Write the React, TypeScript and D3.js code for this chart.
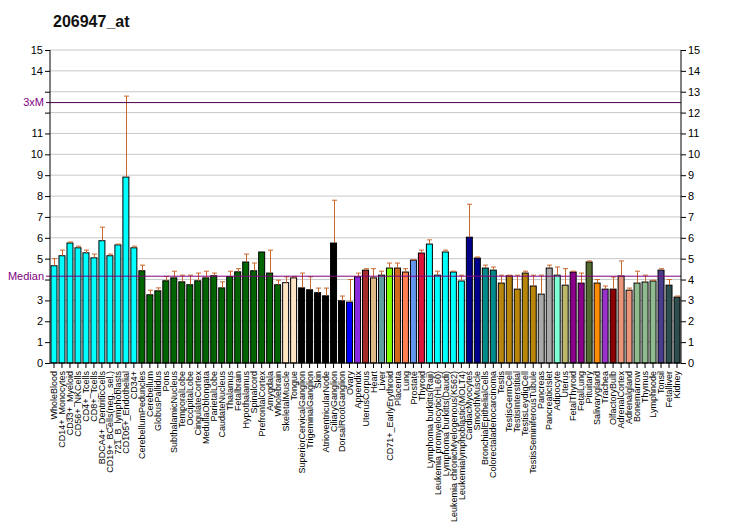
import { useEffect, useRef } from 'react'
import * as d3 from 'd3'

const title = '206947_at'

const tissues = [
  'WholeBlood', 'CD14+_Monocytes', 'CD33+_Myeloid', 'CD56+_NKCells', 'CD4+_Tcells', 'CD8+_Tcells',
  'BDCA4+_DentriticCells', 'CD19+_BCells(neg._sel.)', '721_B_lymphoblasts', 'CD105+_Endothelial', 'CD34+',
  'CerebellumPeduncles', 'Cerebellum', 'GlobusPallidus', 'Pons', 'SubthalamicNucleus', 'TemporalLobe',
  'OccipitalLobe', 'CingulateCortex', 'MedullaOblongata', 'ParietalLobe', 'CaudateNucleus', 'Thalamus',
  'Fetalbrain', 'Hypothalamus', 'Spinalcord', 'PrefrontalCortex', 'Amygdala', 'Wholebrain',
  'SkeletalMuscle', 'Tongue', 'SuperiorCervicalGanglion', 'TrigeminalGanglion', 'Skin',
  'AtrioventricularNode', 'CiliaryGanglion', 'DorsalRootGanglion', 'Ovary', 'Appendix', 'UterusCorpus',
  'Heart', 'Liver', 'CD71+_EarlyErythroid', 'Placenta', 'Lung', 'Prostate', 'Thyroid',
  'Lymphoma burkitts(Raji)', 'Leukemia promyelocytic(HL60)', 'Lymphoma burkitts(Daudi)',
  'Leukemia chronicMyelogenous(K562)', 'Leukemialymphoblastic(MOLT4)', 'CardiacMyocytes', 'SmoothMuscle',
  'BronchialEpithelialCells', 'Colorectaladenocarcinoma', 'Testis', 'TestisGermCell', 'TestisInterstitial',
  'TestisLeydigCell', 'TestisSeminiferousTubule', 'Pancreas', 'PancreaticIslet', 'Adipocyte', 'Uterus',
  'FetalThyroid', 'FetalLung', 'Pituitary', 'Salivarygland', 'Trachea', 'OlfactoryBulb', 'AdrenalCortex',
  'Adrenalgland', 'Bonemarrow', 'Thymus', 'Lymphnode', 'Tonsil', 'Fetalliver', 'Kidney'
]

const values = [
  4.66, 5.14, 5.75, 5.52, 5.28, 5.04, 5.86, 5.14, 5.66, 8.91, 5.52,
  4.42, 3.27, 3.46, 3.94, 4.08, 3.89, 3.75, 3.94, 4.08, 4.18, 3.6, 4.14,
  4.37, 4.84, 4.42, 5.32, 4.31, 3.75,
  3.85, 4.08, 3.6, 3.51, 3.37, 3.22, 5.75, 2.98, 2.92, 4.13, 4.45,
  4.08, 4.21, 4.55, 4.55, 4.36, 4.93, 5.27,
  5.7, 4.21, 5.32, 4.36, 3.93, 6.03, 5.03,
  4.55, 4.45, 3.83, 4.18, 3.54, 4.31, 3.69, 3.3, 4.55, 4.21, 3.73,
  4.36, 3.83, 4.84, 3.83, 3.54, 3.54, 4.17, 3.49, 3.83, 3.88, 3.93, 4.45, 3.73, 3.16
]

const errTops = [
  5.0, 5.41, 5.8, 5.6, 5.41, 5.22, 6.51, 5.22, 5.7, 12.79, 5.6,
  4.69, 3.49, 3.6, 4.15, 4.4, 4.21, 4.21, 4.31, 4.4, 4.31, 3.89, 4.4,
  4.52, 5.22, 4.79, 5.32, 5.41, 3.97,
  4.13, 4.15, 4.31, 4.13, 3.59, 3.59, 7.8, 3.21, 4.0, 4.31, 4.52,
  4.52, 4.4, 4.79, 4.79, 4.52, 4.95, 5.41,
  5.9, 4.4, 5.41, 4.4, 4.21, 7.61, 5.08,
  4.69, 4.6, 4.21, 4.21, 4.21, 4.4, 4.21, 4.21, 4.69, 4.6, 4.52,
  4.4, 4.31, 4.89, 4.0, 3.69, 4.12, 4.89, 3.59, 4.4, 4.21, 3.97, 4.52, 4.0, 3.21
]

const colors = [
  ...Array(11).fill('#00FFFF'),
  ...Array(18).fill('#006400'),
  '#FFE4C4', '#FFE4C4',
  '#000000', '#000000', '#000000', '#000000', '#000000', '#000000',
  '#0000FF', '#8A2BE2', '#A52A2A', '#DEB887', '#5F9EA0', '#7FFF00', '#D2691E', '#FF7F50', '#6495ED', '#DC143C',
  '#00FFFF', '#00FFFF', '#00FFFF', '#00FFFF', '#00FFFF',
  '#00008B', '#00008B', '#008B8B', '#008B8B',
  '#B8860B', '#B8860B', '#B8860B', '#B8860B', '#B8860B',
  '#A9A9A9', '#A9A9A9', '#7FFFD4', '#BDB76B', '#8B008B', '#8B008B', '#556B2F', '#FF8C00', '#9932CC',
  '#8B0000', '#E9967A', '#E9967A', '#8FBC8F', '#8FBC8F', '#8FBC8F', '#483D8B', '#2F4F4F', '#2F4F4F'
]

const yTicks = d3.range(0, 16)
const median = 4.16

export default function App() {
  const svgRef = useRef<SVGSVGElement>(null)
  const width = 732
  const height = 530
  const margin = { top: 50, right: 51, bottom: 167, left: 50 }

  useEffect(() => {
    if (!svgRef.current) return
    const svg = d3.select(svgRef.current)
    svg.selectAll('*').remove()

    const x = d3.scaleBand<string>()
      .domain(tissues)
      .range([margin.left, width - margin.right])
      .paddingInner(0.25)
      .paddingOuter(0.125)

    const y = d3.scaleLinear()
      .domain([0, 15])
      .range([height - margin.bottom, margin.top])

    const font = 'Arial, "Liberation Sans", sans-serif'
    const x0 = margin.left
    const x1 = width - margin.right

    // title
    svg.append('text')
      .attr('x', 53)
      .attr('y', 27)
      .attr('font-family', font)
      .attr('font-size', 16)
      .attr('font-weight', 'bold')
      .attr('fill', '#111')
      .text(title)

    // gridlines
    svg.append('g')
      .selectAll('line')
      .data(yTicks.filter(t => t > 0))
      .enter()
      .append('line')
      .attr('x1', x0)
      .attr('x2', x1)
      .attr('y1', d => y(d))
      .attr('y2', d => y(d))
      .attr('stroke', '#C8C8C8')
      .attr('stroke-width', 1)

    // bars
    svg.append('g')
      .selectAll('rect')
      .data(tissues)
      .enter()
      .append('rect')
      .attr('x', d => x(d)!)
      .attr('y', (d, i) => y(values[i]))
      .attr('width', x.bandwidth())
      .attr('height', (d, i) => y(0) - y(values[i]))
      .attr('fill', (d, i) => colors[i])
      .attr('stroke', '#000')
      .attr('stroke-width', 1)

    // error bars
    const err = svg.append('g')
      .attr('stroke', '#C8682D')
      .attr('stroke-width', 1)
    tissues.forEach((t, i) => {
      if (errTops[i] <= values[i] + 0.02) return
      const cx = Math.round(x(t)! + x.bandwidth() / 2) + 0.5
      err.append('line')
        .attr('x1', cx).attr('x2', cx)
        .attr('y1', y(values[i])).attr('y2', y(errTops[i]))
      err.append('line')
        .attr('x1', cx - 2.5).attr('x2', cx + 2.5)
        .attr('y1', y(errTops[i])).attr('y2', y(errTops[i]))
    })

    // median & 3xM lines
    svg.append('line')
      .attr('x1', x0 - 4).attr('x2', x1)
      .attr('y1', y(median)).attr('y2', y(median))
      .attr('stroke', '#800080')
      .attr('stroke-width', 1)
    svg.append('line')
      .attr('x1', x0 - 4).attr('x2', x1)
      .attr('y1', y(median * 3)).attr('y2', y(median * 3))
      .attr('stroke', '#4B004B')
      .attr('stroke-width', 1)

    svg.append('text')
      .attr('x', 44).attr('y', y(median)).attr('dy', '0.35em')
      .attr('text-anchor', 'end')
      .attr('font-family', font).attr('font-size', 11)
      .attr('fill', '#800080')
      .text('Median')
    svg.append('text')
      .attr('x', 44).attr('y', y(median * 3)).attr('dy', '0.35em')
      .attr('text-anchor', 'end')
      .attr('font-family', font).attr('font-size', 11)
      .attr('fill', '#800080')
      .text('3xM')

    // left axis
    const hidden = (t: number) => Math.abs(y(t) - y(median)) < 10 || Math.abs(y(t) - y(median * 3)) < 14
    const yAxisL = d3.axisLeft(y)
      .tickValues(yTicks)
      .tickSize(5)
      .tickPadding(2)
      .tickFormat(d => (hidden(+d) ? '' : String(d)))
    const gl = svg.append('g')
      .attr('transform', `translate(${x0},0)`)
      .call(yAxisL)
    gl.selectAll('text').attr('font-family', font).attr('font-size', 11).attr('fill', '#000')
    gl.select('.domain').attr('d', `M0,${y(0)}V${y(15)}`)

    // right axis
    const yAxisR = d3.axisRight(y)
      .tickValues(yTicks)
      .tickSize(5)
      .tickPadding(2)
    const gr = svg.append('g')
      .attr('transform', `translate(${x1},0)`)
      .call(yAxisR)
    gr.selectAll('text').attr('font-family', font).attr('font-size', 11).attr('fill', '#000')
    gr.select('.domain').attr('d', `M0,${y(0)}V${y(15)}`)

    // bottom axis
    const xAxis = d3.axisBottom(x)
      .tickSize(5)
      .tickPadding(2)
    const gb = svg.append('g')
      .attr('transform', `translate(0,${y(0)})`)
      .call(xAxis)
    gb.select('.domain').attr('d', `M${x0},0H${x1}`)
    gb.selectAll('text')
      .attr('font-family', font)
      .attr('font-size', 9)
      .attr('transform', 'rotate(-90)')
      .attr('text-anchor', 'end')
      .attr('x', -8)
      .attr('y', 0)
      .attr('dy', '0.35em')
      .attr('fill', '#000')
  }, [])

  return (
    <svg
      ref={svgRef}
      width={width}
      height={height}
      style={{ position: 'absolute', left: 0, top: 0, background: '#fff' }}
    />
  )
}
